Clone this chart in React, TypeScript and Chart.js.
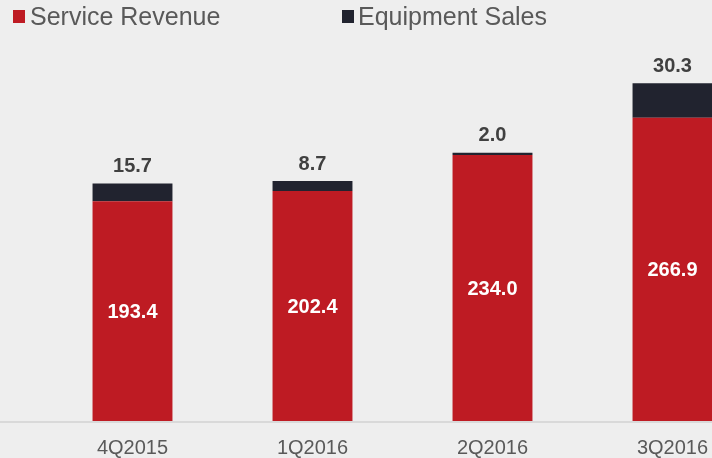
import React, { useEffect, useRef } from "react";
import { Chart, registerables } from "chart.js";

Chart.register(...registerables);

const categories = ["4Q2015", "1Q2016", "2Q2016", "3Q2016"];
const serviceRevenue = [193.4, 202.4, 234.0, 266.9];
const equipmentSales = [15.7, 8.7, 2.0, 30.3];
const seriesNames = ["Service Revenue", "Equipment Sales"];

const RED = "#be1b23";
const DARK = "#21232f";
const FONT = "'Liberation Sans', Arial, Helvetica, sans-serif";

const baselinePlugin = {
  id: "baseline",
  beforeDatasetsDraw(chart: any) {
    const { ctx, chartArea } = chart;
    ctx.save();
    ctx.strokeStyle = "#d9d9d9";
    ctx.lineWidth = 2;
    ctx.beginPath();
    ctx.moveTo(0, chartArea.bottom + 1);
    ctx.lineTo(chart.width, chartArea.bottom + 1);
    ctx.stroke();
    ctx.restore();
  },
};

const labelPlugin = {
  id: "valueLabels",
  afterDatasetsDraw(chart: any) {
    const ctx = chart.ctx;
    ctx.save();
    ctx.font = `bold 20px ${FONT}`;
    ctx.textAlign = "center";
    ctx.textBaseline = "middle";
    const m0 = chart.getDatasetMeta(0);
    m0.data.forEach((el: any, i: number) => {
      const { x, y, base } = el.getProps(["x", "y", "base"], true);
      ctx.fillStyle = "#ffffff";
      ctx.fillText(serviceRevenue[i].toFixed(1), x, (y + base) / 2 + 1);
    });
    const m1 = chart.getDatasetMeta(1);
    m1.data.forEach((el: any, i: number) => {
      const { x, y } = el.getProps(["x", "y"], true);
      ctx.fillStyle = "#404040";
      ctx.fillText(equipmentSales[i].toFixed(1), x, y - 17);
    });
    ctx.restore();
  },
};

export default function App() {
  const ref = useRef<HTMLCanvasElement | null>(null);

  useEffect(() => {
    if (!ref.current) return;
    const chart = new Chart(ref.current, {
      type: "bar",
      data: {
        labels: categories,
        datasets: [
          {
            label: seriesNames[0],
            data: serviceRevenue,
            backgroundColor: RED,
            borderWidth: 0,
            barPercentage: 0.444,
            categoryPercentage: 1,
          },
          {
            label: seriesNames[1],
            data: equipmentSales,
            backgroundColor: DARK,
            borderWidth: 0,
            barPercentage: 0.444,
            categoryPercentage: 1,
          },
        ],
      },
      options: {
        responsive: false,
        animation: false,
        devicePixelRatio: 1,
        events: [],
        layout: { padding: { left: 42.5, right: 37.5, top: 46, bottom: 0 } },
        plugins: {
          legend: { display: false },
          tooltip: { enabled: false },
        },
        scales: {
          x: {
            stacked: true,
            grid: { display: false, drawTicks: false },
            border: { display: false },
            ticks: {
              color: "#595959",
              font: { family: FONT, size: 20 },
              padding: 15,
              maxRotation: 0,
              autoSkip: false,
            },
            afterFit: (s: any) => {
              s.height = 37;
            },
          },
          y: {
            stacked: true,
            display: false,
            min: 0,
            max: 330,
          },
        },
      },
      plugins: [baselinePlugin, labelPlugin],
    });
    return () => chart.destroy();
  }, []);

  const legendText: React.CSSProperties = {
    position: "absolute",
    top: 4,
    fontFamily: FONT,
    fontSize: 25,
    lineHeight: "25px",
    color: "#595959",
    whiteSpace: "nowrap",
  };

  return (
    <div
      style={{
        position: "fixed",
        left: 0,
        top: 0,
        width: 712,
        height: 458,
        overflow: "hidden",
        background: "#eeeeee",
      }}
    >
      <canvas
        ref={ref}
        width={800}
        height={458}
        style={{ position: "absolute", left: 0, top: 0, width: 800, height: 458, display: "block" }}
      />
      <div style={{ position: "absolute", left: 13, top: 10, width: 12, height: 13, background: RED }} />
      <div style={{ ...legendText, left: 30 }}>{seriesNames[0]}</div>
      <div style={{ position: "absolute", left: 342, top: 10, width: 12, height: 13, background: DARK }} />
      <div style={{ ...legendText, left: 358 }}>{seriesNames[1]}</div>
    </div>
  );
}
